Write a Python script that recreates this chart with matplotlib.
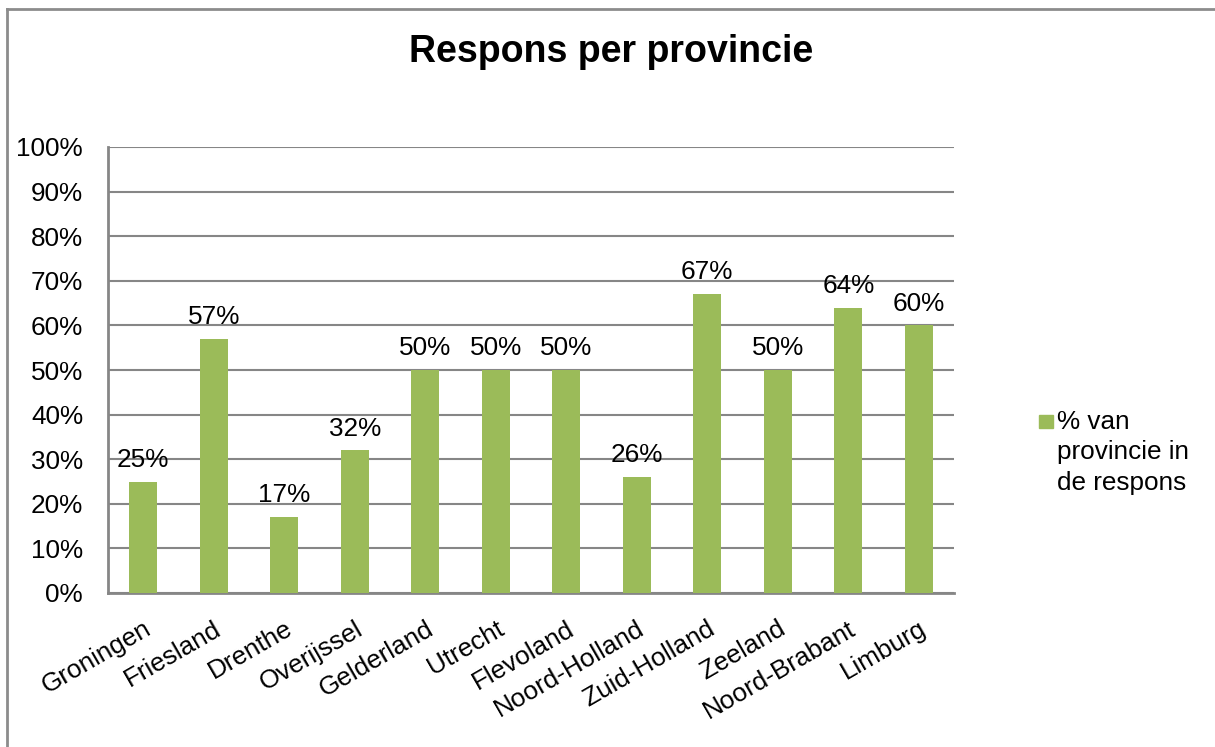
import matplotlib

matplotlib.use("Agg")
import matplotlib.pyplot as plt
from matplotlib.lines import Line2D
from matplotlib.patches import Rectangle
from matplotlib.ticker import MultipleLocator, PercentFormatter

provinces = [
    "Groningen", "Friesland", "Drenthe", "Overijssel", "Gelderland", "Utrecht",
    "Flevoland", "Noord-Holland", "Zuid-Holland", "Zeeland", "Noord-Brabant", "Limburg",
]
response_pct = [25, 57, 17, 32, 50, 50, 50, 26, 67, 50, 64, 60]
legend_label = "% van\nprovincie in\nde respons"
title = "Respons per provincie"

W, H = 1215, 747
GREEN = "#9bbb59"
GRID = "#868686"
FS = 18.8

plt.rcParams["font.family"] = ["Liberation Sans", "DejaVu Sans"]

fig = plt.figure(figsize=(W / 100, H / 100), dpi=100)
ax = fig.add_axes([108 / W, (H - 593) / H, (954 - 108) / W, (593 - 147) / H])

x = range(len(provinces))
bars = ax.bar(x, response_pct, width=0.4, color=GREEN, zorder=3)
for rect, v in zip(bars, response_pct):
    ax.annotate(f"{v}%", (rect.get_x() + rect.get_width() / 2, v),
                xytext=(0, 7), textcoords="offset points",
                ha="center", va="bottom", fontsize=FS)

ax.set_xlim(-0.5, len(provinces) - 0.5)
ax.set_ylim(0, 100)
ax.yaxis.set_major_locator(MultipleLocator(10))
ax.yaxis.set_major_formatter(PercentFormatter(decimals=0))
ax.grid(axis="y", color=GRID, linewidth=1.5, zorder=0)
ax.set_axisbelow(True)

ax.set_xticks(list(x))
ax.set_xticklabels(provinces, rotation=30, ha="right", rotation_mode="anchor")
ax.tick_params(axis="both", length=0, labelsize=FS)
ax.tick_params(axis="x", pad=17)
ax.tick_params(axis="y", pad=18)

for side in ("top", "right"):
    ax.spines[side].set_visible(False)
for side in ("left", "bottom"):
    ax.spines[side].set_color(GRID)
    ax.spines[side].set_linewidth(2)

fig.text(611 / W, 1 - 52 / H, title, ha="center", va="center",
         fontsize=27, fontweight="bold")

# legend drawn by hand so the swatch sits on the first text line
fig.patches.append(Rectangle((1039 / W, 1 - 428 / H), 14 / W, 13 / H,
                             transform=fig.transFigure, color=GREEN))
fig.text(1057 / W, 1 - 410 / H, legend_label, ha="left", va="top",
         fontsize=FS, linespacing=1.33)

# outer chart frame (only top and left edges are visible)
fig.add_artist(Line2D([6.5 / W, 6.5 / W], [0, 1 - 8.5 / H],
                      transform=fig.transFigure, color="#8c8c8c", linewidth=2))
fig.add_artist(Line2D([6.5 / W, 1], [1 - 8.5 / H, 1 - 8.5 / H],
                      transform=fig.transFigure, color="#8c8c8c", linewidth=2))

fig.savefig("out.png", dpi=100)
